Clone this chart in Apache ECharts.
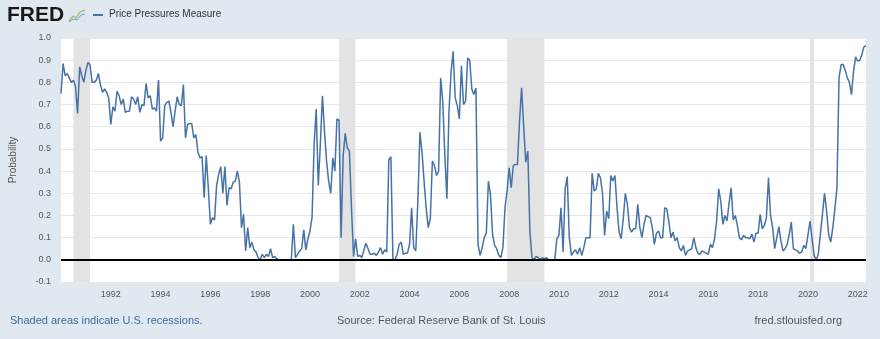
<!DOCTYPE html>
<html>
<head>
<meta charset="utf-8">
<script src="https://cdn.jsdelivr.net/npm/echarts@6/dist/echarts.min.js"></script>
<style>
html,body{margin:0;padding:0;background:#e1e9f0;}
#chart{width:880px;height:339px;}
</style>
</head>
<body>
<div id="chart"></div>
<script>
// Monthly series, starting January 1990
const startYear = 1990;
const startMonth = 1;
const seriesName = 'Price Pressures Measure';
const values = [
  0.75,0.885,0.83,0.84,0.82,0.80,0.81,0.78,0.66,0.87,0.83,0.80,
  0.855,0.89,0.88,0.80,0.80,0.81,0.84,0.79,0.755,0.77,0.755,0.73,
  0.61,0.69,0.67,0.76,0.74,0.70,0.725,0.665,0.67,0.67,0.735,0.725,
  0.70,0.735,0.665,0.70,0.695,0.795,0.73,0.74,0.68,0.685,0.67,0.81,
  0.535,0.55,0.695,0.71,0.715,0.665,0.60,0.67,0.735,0.70,0.695,0.79,
  0.55,0.61,0.615,0.615,0.55,0.565,0.485,0.46,0.465,0.28,0.47,0.325,
  0.16,0.19,0.18,0.335,0.385,0.42,0.30,0.42,0.245,0.325,0.32,0.35,
  0.355,0.40,0.35,0.145,0.205,0.04,0.145,0.055,0.08,0.045,0.035,0.01,
  0.0,0.025,0.01,0.025,0.015,0.05,0.01,0.015,0.005,0,0,0,
  0,0,0,0,0.16,0.01,0.025,0.04,0.05,0.135,0.045,0.095,
  0.13,0.19,0.52,0.68,0.335,0.52,0.74,0.58,0.445,0.355,0.30,0.46,
  0.40,0.635,0.63,0.10,0.47,0.57,0.505,0.49,0.235,0.015,0.095,0.015,
  0.02,0.01,0.045,0.075,0.05,0.025,0.025,0.03,0.02,0.035,0.055,0.025,
  0.045,0.035,0.45,0.465,0.0,0.0,0.025,0.07,0.08,0.025,0.03,0.03,
  0.07,0.235,0.055,0.04,0.265,0.575,0.485,0.355,0.235,0.145,0.185,0.445,
  0.425,0.38,0.40,0.82,0.715,0.475,0.275,0.67,0.845,0.94,0.73,0.695,
  0.635,0.875,0.70,0.715,0.91,0.90,0.77,0.745,0.775,0.07,0.02,0.055,
  0.10,0.12,0.355,0.295,0.115,0.065,0.05,0.02,0.01,0.055,0.235,0.31,
  0.415,0.325,0.425,0.43,0.43,0.625,0.775,0.605,0.44,0.49,0.13,0.01,
  0,0.015,0.01,0,0.01,0.005,0.01,0,0,0,0,0.095,
  0.11,0.235,0.035,0.32,0.375,0.10,0.02,0.035,0.045,0.025,0.055,0.02,
  0.055,0.10,0.10,0.10,0.39,0.31,0.32,0.39,0.37,0.30,0.11,0.22,
  0.185,0.38,0.355,0.38,0.235,0.125,0.095,0.185,0.30,0.25,0.145,0.125,
  0.14,0.14,0.25,0.145,0.10,0.16,0.20,0.195,0.19,0.145,0.07,0.12,
  0.13,0.10,0.10,0.235,0.23,0.17,0.10,0.125,0.085,0.10,0.055,0.04,
  0.065,0.02,0.04,0.045,0.05,0.10,0.055,0.03,0.025,0.04,0.035,0.03,
  0.025,0.07,0.055,0.095,0.175,0.32,0.265,0.16,0.20,0.175,0.255,0.325,
  0.18,0.20,0.155,0.10,0.09,0.11,0.10,0.10,0.095,0.115,0.08,0.12,
  0.12,0.205,0.14,0.155,0.19,0.37,0.20,0.145,0.05,0.10,0.15,0.085,
  0.04,0.05,0.07,0.115,0.17,0.05,0.045,0.04,0.03,0.035,0.065,0.05,
  0.11,0.175,0.095,0.02,0.0,0.025,0.115,0.205,0.30,0.22,0.115,0.08,
  0.145,0.23,0.325,0.82,0.88,0.88,0.855,0.82,0.80,0.745,0.85,0.915,
  0.895,0.90,0.925,0.96,0.965
];
const recessionStart = ['1990-07','2001-03','2007-12','2020-02'];
const recessionEnd   = ['1991-03','2001-11','2009-06','2020-04'];
const yTicks = [-0.1,0,0.1,0.2,0.3,0.4,0.5,0.6,0.7,0.8,0.9,1.0];

function ym(s){const p=s.split('-');return +p[0]+(+p[1]-1)/12;}
const data = values.map((v,i)=>[startYear+(startMonth-1+i)/12, v]);
const xMax = startYear+(startMonth-1+values.length-1)/12;

const chart = echarts.init(document.getElementById('chart'), null, {renderer:'canvas'});
const font = '"Liberation Sans", Arial, sans-serif';
chart.setOption({
  backgroundColor:'#e1e9f0',
  animation:false,
  grid:{left:58,right:14,top:38,bottom:57,show:true,backgroundColor:'#ffffff',borderWidth:0},
  xAxis:{
    type:'value',min:startYear,max:xMax,interval:2,
    axisLine:{show:false},axisTick:{show:false},splitLine:{show:false},
    axisLabel:{color:'#555',fontSize:9,fontFamily:font,margin:8,showMinLabel:true,showMaxLabel:true,
      formatter:v=>(Number.isInteger(v)&&v>startYear&&v%2===0)?String(v):''}
  },
  yAxis:{
    type:'value',min:yTicks[0],max:yTicks[yTicks.length-1],interval:0.1,
    name:'Probability',nameLocation:'middle',nameGap:43,
    nameTextStyle:{color:'#555',fontSize:10,fontFamily:font},
    axisLine:{show:false},axisTick:{show:false},
    splitLine:{lineStyle:{color:'#e8e8e8',width:1}},
    axisLabel:{color:'#555',fontSize:9,fontFamily:font,margin:10,formatter:v=>v.toFixed(1)}
  },
  series:[{
    name:seriesName,type:'line',data:data,showSymbol:false,symbol:'none',
    lineStyle:{color:'#4572a7',width:1.5},
    markArea:{silent:true,itemStyle:{color:'#e3e3e3'},
      data:recessionStart.map((s,i)=>[{xAxis:ym(s)},{xAxis:ym(recessionEnd[i])}])},
    markLine:{silent:true,symbol:'none',label:{show:false},
      lineStyle:{color:'#000',width:2,type:'solid'},data:[{yAxis:0}]}
  }],
  graphic:[
    {type:'text',left:7,top:5,style:{text:'FRED',font:'bold 21px '+font,fill:'#1a1a1a'}},
    {type:'rect',shape:{x:68,y:9,width:18,height:14},style:{fill:'#dde6ee'}},
    {type:'polyline',shape:{points:[[69,21],[73,16],[76,18],[80,12],[85,10]]},style:{stroke:'#8cc063',lineWidth:1.2,fill:null}},
    {type:'polyline',shape:{points:[[69,22],[73,19],[77,20],[81,15],[85,14]]},style:{stroke:'#6f9fd0',lineWidth:1,fill:null}},
    {type:'line',shape:{x1:93,y1:15,x2:103,y2:15},style:{stroke:'#4572a7',lineWidth:2}},
    {type:'text',left:109,top:9,style:{text:seriesName,font:'10px '+font,fill:'#333'}},
    {type:'text',left:10,top:315,style:{text:'Shaded areas indicate U.S. recessions.',font:'11px '+font,fill:'#3f6aa3'}},
    {type:'text',left:337,top:315,style:{text:'Source: Federal Reserve Bank of St. Louis',font:'11px '+font,fill:'#555'}},
    {type:'text',right:38,top:315,style:{text:'fred.stlouisfed.org',font:'11px '+font,fill:'#555'}}
  ]
});
</script>
</body>
</html>
